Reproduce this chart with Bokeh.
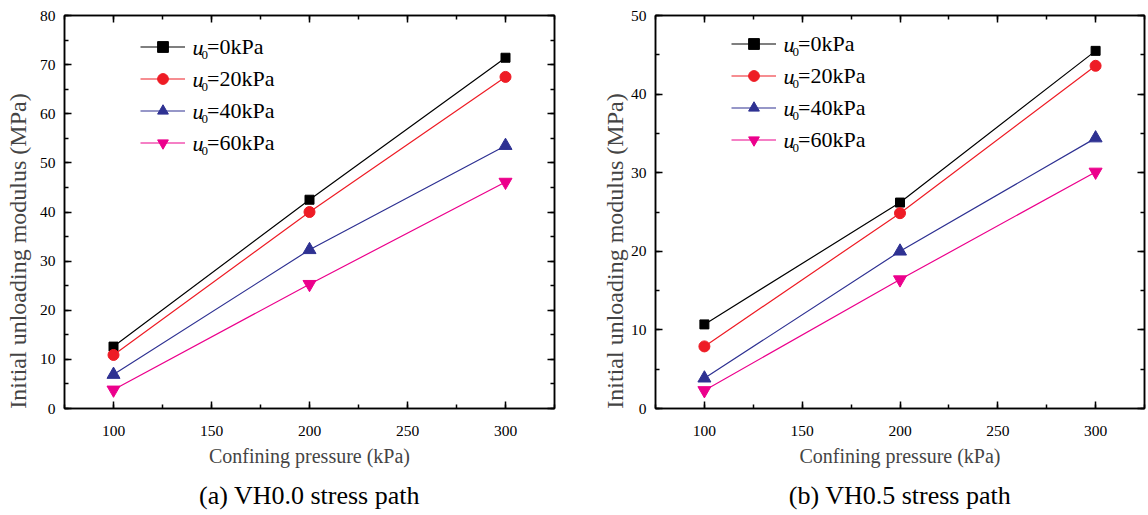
from bokeh.plotting import figure
from bokeh.models import (LinearAxis, SingleIntervalTicker, Range1d, Legend,
                          LegendItem, Label, Title)
from bokeh.layouts import row
from bokeh.embed import file_html
from bokeh.resources import INLINE

# ---- data ----
pressure = [100, 200, 300]
legend_suffix = ["=0kPa", "=20kPa", "=40kPa", "=60kPa"]

vh00_u0_0 = [12.6, 42.5, 71.4]
vh00_u0_20 = [10.9, 40.0, 67.5]
vh00_u0_40 = [6.9, 32.3, 53.5]
vh00_u0_60 = [3.8, 25.3, 46.1]

vh05_u0_0 = [10.7, 26.2, 45.5]
vh05_u0_20 = [7.9, 24.85, 43.6]
vh05_u0_40 = [3.85, 20.0, 34.4]
vh05_u0_60 = [2.3, 16.4, 30.1]

x_label = "Confining pressure (kPa)"
y_label = "Initial unloading modulus (MPa)"
captions = ["(a) VH0.0 stress path", "(b) VH0.5 stress path"]

colors = ["#000000", "#ee1c25", "#2e3192", "#ec008c"]
markers = ["square", "circle", "triangle", "inverted_triangle"]
msizes = [9, 11, 13, 13]
FONT = "Liberation Serif"
FRAME_H = 393
YLABEL_PAD = "\u00a0" * 13  # shifts the centred label toward the bottom, as in the source


def style_axis(ax, interval, show_labels=True, standoff=7):
    ax.ticker = SingleIntervalTicker(interval=interval, num_minor_ticks=2)
    ax.axis_line_color = "black"
    ax.axis_line_width = 1.5
    ax.major_tick_in = 7
    ax.major_tick_out = 0
    ax.minor_tick_in = 4
    ax.minor_tick_out = 0
    ax.major_tick_line_color = "black"
    ax.minor_tick_line_color = "black"
    ax.major_tick_line_width = 1.5
    ax.minor_tick_line_width = 1.5
    ax.major_label_standoff = standoff
    if show_labels:
        ax.major_label_text_font = FONT
        ax.major_label_text_font_size = "15.5px"
        ax.major_label_text_color = "black"
    else:
        ax.major_label_text_font_size = "0px"
        ax.major_label_text_color = None


def make_panel(series, y_max, caption, frame_w, border_l, border_r,
               ylab_standoff, legend_bottom):
    p = figure(frame_width=frame_w, frame_height=FRAME_H,
               x_range=Range1d(75, 325), y_range=Range1d(0, y_max),
               output_backend="svg", toolbar_location=None,
               x_axis_location=None, y_axis_location=None,
               min_border_left=border_l, min_border_right=border_r,
               min_border_top=15, min_border_bottom=0,
               background_fill_color="white", border_fill_color="white")
    p.grid.visible = False
    p.outline_line_color = "black"
    p.outline_line_width = 1.5

    xb = LinearAxis(axis_label=x_label)
    style_axis(xb, 50, standoff=17)
    xb.axis_label_text_font = FONT
    xb.axis_label_text_font_size = "20px"
    xb.axis_label_text_font_style = "normal"
    xb.axis_label_standoff = 6
    p.add_layout(xb, "below")

    yl = LinearAxis(axis_label=y_label + YLABEL_PAD)
    style_axis(yl, 10, standoff=9)
    yl.axis_label_text_font = FONT
    yl.axis_label_text_font_size = "24px"
    yl.axis_label_text_font_style = "normal"
    yl.axis_label_standoff = ylab_standoff
    p.add_layout(yl, "left")

    xt = LinearAxis()
    style_axis(xt, 50, show_labels=False, standoff=0)
    p.add_layout(xt, "above")
    yr = LinearAxis()
    style_axis(yr, 10, show_labels=False, standoff=0)
    p.add_layout(yr, "right")

    t = Title(text=caption, align="center", text_font=FONT,
              text_font_size="26px", text_font_style="normal",
              text_color="black", standoff=19)
    p.add_layout(t, "below")

    items = []
    for vals, c, m, ms, lab in zip(series, colors, markers, msizes, legend_suffix):
        lr = p.line(pressure, vals, line_color=c, line_width=1.2)
        sr = p.scatter(pressure, vals, marker=m, size=ms, fill_color=c, line_color=c)
        items.append(LegendItem(label=lab, renderers=[lr, sr]))

    gw, gh, sp = 45, 27, 5
    lx = 76
    leg = Legend(items=items, location=(lx, legend_bottom), orientation="vertical",
                 glyph_width=gw, glyph_height=gh, label_height=gh, spacing=sp,
                 padding=0, margin=0, border_line_color=None,
                 background_fill_alpha=0, label_standoff=22,
                 label_text_font=FONT, label_text_font_size="22px",
                 label_text_color="black")
    p.add_layout(leg, "center")

    n = len(items)
    top = legend_bottom + n * gh + (n - 1) * sp
    for i in range(n):
        yc = top - gh / 2 - i * (gh + sp)
        p.add_layout(Label(x=lx + gw + 7, y=yc, x_units="screen", y_units="screen",
                           text="u", text_font=FONT, text_font_size="22px",
                           text_font_style="italic", text_baseline="middle",
                           text_color="black"))
        p.add_layout(Label(x=lx + gw + 16, y=yc - 8, x_units="screen", y_units="screen",
                           text="0", text_font=FONT, text_font_size="13px",
                           text_baseline="middle", text_color="black"))
    return p


p1 = make_panel([vh00_u0_0, vh00_u0_20, vh00_u0_40, vh00_u0_60], 80, captions[0],
                490, 64, 44, 6, 252)
p2 = make_panel([vh05_u0_0, vh05_u0_20, vh05_u0_40, vh05_u0_60], 50, captions[1],
                489, 56, 4, 0, 255)

layout = row(p1, p2)
open("out.html", "w").write(file_html(layout, INLINE))
